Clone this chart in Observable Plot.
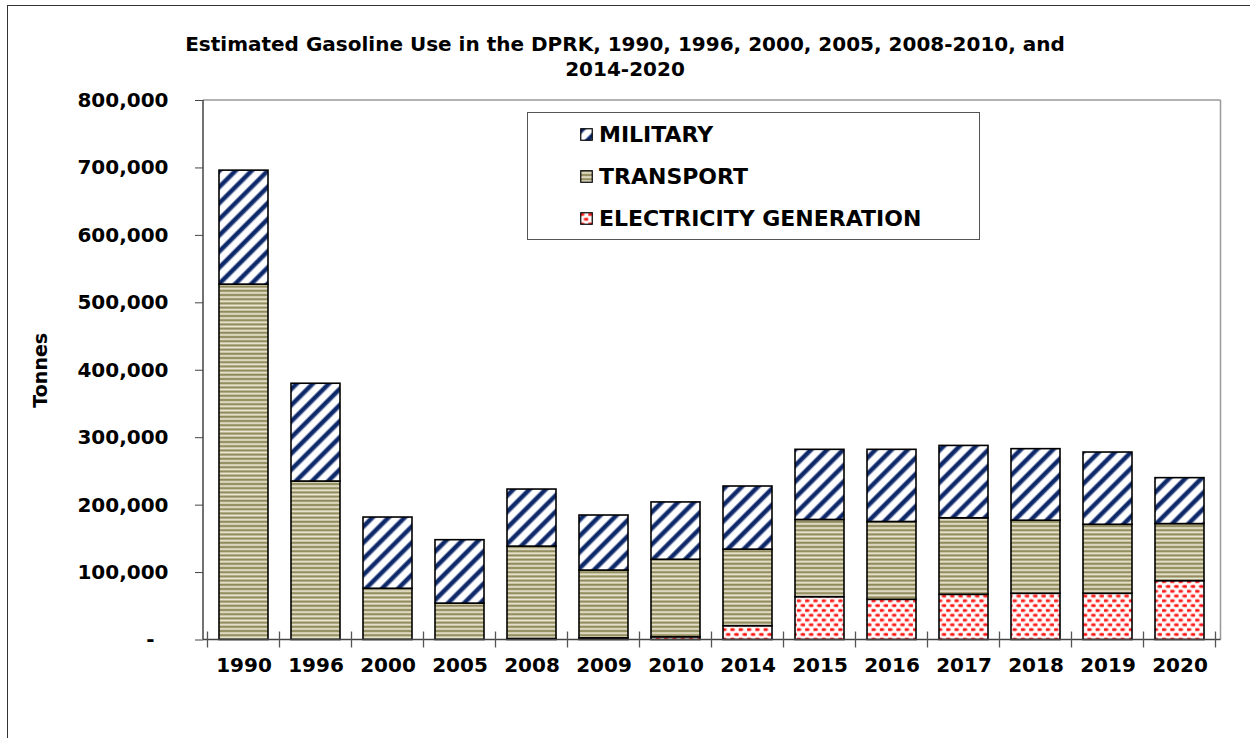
<!DOCTYPE html>
<html>
<head>
<meta charset="utf-8">
<script src="https://cdn.jsdelivr.net/npm/d3@7"></script>
<script src="https://cdn.jsdelivr.net/npm/@observablehq/plot@0.6"></script>
<style>
  html, body { margin: 0; padding: 0; background: #fff; }
  #wrap { position: relative; width: 1250px; height: 738px; overflow: hidden; font-family: "DejaVu Sans", sans-serif; font-weight: bold; color: #000; }
  #frame { position: absolute; left: 7px; top: 5px; width: 1300px; height: 800px; border-left: 1.5px solid #333; border-top: 1.5px solid #333; pointer-events: none; }
  #title { position: absolute; left: 0; top: 32px; width: 1250px; text-align: center; font-size: 20px; line-height: 25px; }
  #chart { position: absolute; left: 0; top: 80px; }
  #legend { position: absolute; left: 527px; top: 112px; width: 451px; height: 126px; border: 1.5px solid #555; background: #fff; }
  .item { position: absolute; left: 52px; height: 24px; display: flex; align-items: center; font-size: 22px; white-space: nowrap; }
  .item svg { margin-right: 6px; }
</style>
</head>
<body>
<div id="wrap">
  <div id="title"></div>
  <div id="chart"></div>
  <div id="legend"></div>
  <div id="frame"></div>
</div>
<script>
const titleLines = ["Estimated Gasoline Use in the DPRK, 1990, 1996, 2000, 2005, 2008-2010, and", "2014-2020"];
const yLabel = "Tonnes";
const years = ["1990","1996","2000","2005","2008","2009","2010","2014","2015","2016","2017","2018","2019","2020"];
const seriesNames = ["ELECTRICITY GENERATION", "TRANSPORT", "MILITARY"];
const legendOrder = ["MILITARY", "TRANSPORT", "ELECTRICITY GENERATION"];
const electricity = [0, 0, 0, 0, 1500, 2500, 4000, 20500, 63500, 59600, 67000, 68500, 68500, 87300];
const transport = [527000, 235000, 76000, 54000, 137000, 100500, 115000, 113500, 114500, 115400, 113500, 108400, 102400, 84600];
const military = [169000, 145000, 105600, 94000, 84600, 81600, 85000, 93600, 104000, 107000, 107300, 106100, 107100, 68100];
const yTicks = [0, 100000, 200000, 300000, 400000, 500000, 600000, 700000, 800000];
const patternIds = ["pat-elec", "pat-trans", "pat-mil"];

const seriesValues = [electricity, transport, military];
const data = years.flatMap((year, i) =>
  seriesNames.map((s, k) => ({year, series: s, value: seriesValues[k][i]}))
).filter(d => d.value > 0);

document.getElementById("title").innerHTML = titleLines.join("<br>");

function addPatterns(svgSel) {
  const defs = svgSel.insert("defs", ":first-child");
  // military: diagonal navy stripes
  const pm = defs.append("pattern").attr("id", "pat-mil").attr("patternUnits", "userSpaceOnUse")
    .attr("width", 11.4).attr("height", 11.4).attr("patternTransform", "rotate(45)");
  pm.append("rect").attr("width", 11.4).attr("height", 11.4).attr("fill", "#ffffff");
  pm.append("rect").attr("x", 0).attr("width", 5.4).attr("height", 11.4).attr("fill", "#8a97bd");
  pm.append("rect").attr("x", 0.9).attr("width", 3.6).attr("height", 11.4).attr("fill", "#0c2868");
  // transport: horizontal khaki stripes
  const pt = defs.append("pattern").attr("id", "pat-trans").attr("patternUnits", "userSpaceOnUse")
    .attr("width", 8).attr("height", 4.2);
  pt.append("rect").attr("width", 8).attr("height", 4.2).attr("fill", "#c6c09b");
  pt.append("rect").attr("y", 0).attr("width", 8).attr("height", 1.6).attr("fill", "#8f895d");
  pt.append("rect").attr("y", 2.4).attr("width", 8).attr("height", 1.0).attr("fill", "#ebe8d9");
  // electricity: staggered red dots
  const pe = defs.append("pattern").attr("id", "pat-elec").attr("patternUnits", "userSpaceOnUse")
    .attr("width", 8.3).attr("height", 9.6);
  pe.append("rect").attr("width", 8.3).attr("height", 9.6).attr("fill", "#ffffff");
  [[2, 2.4], [6.15, 7.2]].forEach(([cx, cy]) => {
    pe.append("ellipse").attr("cx", cx).attr("cy", cy).attr("rx", 3.0).attr("ry", 2.0).attr("fill", "#ffa8a8");
    pe.append("ellipse").attr("cx", cx).attr("cy", cy).attr("rx", 2.2).attr("ry", 1.3).attr("fill", "#ff1010");
  });
}

function frameLines(index, scales, values, dimensions) {
  const {width, height, marginLeft, marginRight, marginTop, marginBottom} = dimensions;
  const x0 = marginLeft, x1 = width - marginRight, y0 = height - marginBottom, yT = marginTop;
  const g = d3.create("svg:g");
  g.append("line").attr("x1", x0).attr("x2", x1).attr("y1", yT).attr("y2", yT).attr("stroke", "#999").attr("stroke-width", 1.5);
  g.append("line").attr("x1", x1).attr("x2", x1).attr("y1", yT).attr("y2", y0).attr("stroke", "#999").attr("stroke-width", 1.5);
  g.append("line").attr("x1", x0).attr("x2", x0).attr("y1", yT).attr("y2", y0).attr("stroke", "#444").attr("stroke-width", 1.5);
  g.append("line").attr("x1", x0).attr("x2", x1).attr("y1", y0).attr("y2", y0).attr("stroke", "#444").attr("stroke-width", 1.5);
  const sx = scales.x;
  const bw = typeof sx.bandwidth === "function" ? sx.bandwidth() : scales.scales.x.bandwidth;
  const st = typeof sx.step === "function" ? sx.step() : scales.scales.x.step;
  const half = (st - bw) / 2;
  const bounds = years.map(y => sx(y) - half).concat([sx(years[years.length - 1]) + bw + half]);
  bounds.forEach(b => {
    g.append("line").attr("x1", b).attr("x2", b).attr("y1", y0 - 8).attr("y2", y0 + 8).attr("stroke", "#555").attr("stroke-width", 1.3);
  });
  return g.node();
}

const chart = Plot.plot({
  width: 1250,
  height: 658,
  marginTop: 20,
  marginBottom: 98.5,
  marginLeft: 203,
  marginRight: 29.5,
  style: {fontFamily: "DejaVu Sans, sans-serif", fontWeight: "bold", fontSize: "20px", color: "#000", background: "transparent", overflow: "visible"},
  x: {domain: years, paddingInner: 0.32, paddingOuter: 0.16},
  y: {domain: [0, 800000]},
  color: {domain: seriesNames, range: patternIds.map(id => `url(#${id})`)},
  marks: [
    Plot.barY(data, {x: "year", y: "value", fill: "series", order: seriesNames, stroke: "#000", strokeWidth: 1.6}),
    frameLines,
    Plot.axisY({ticks: yTicks, tickFormat: d => d === 0 ? "-\u00a0\u00a0" : d3.format(",")(d), tickSize: 8, tickPadding: 27, stroke: "#444", label: null}),
    Plot.axisX({tickSize: 0, tickPadding: 18, label: null, fontSize: 20}),
    Plot.text([yLabel], {frameAnchor: "left", textAnchor: "middle", rotate: -90, dx: -163, fontSize: 19, fontWeight: "bold"})
  ]
});
addPatterns(d3.select(chart));
document.getElementById("chart").appendChild(chart);

// legend
const legend = document.getElementById("legend");
const legendTops = [9, 51, 93];
legendOrder.forEach((name, i) => {
  const k = seriesNames.indexOf(name);
  const item = document.createElement("div");
  item.className = "item";
  item.style.top = legendTops[i] + "px";
  item.innerHTML = `<svg width="13" height="13"><rect x="0.75" y="0.75" width="11.5" height="11.5" fill="url(#${patternIds[k]})" stroke="#000" stroke-width="1.2"/></svg><span>${name}</span>`;
  legend.appendChild(item);
});
</script>
</body>
</html>
